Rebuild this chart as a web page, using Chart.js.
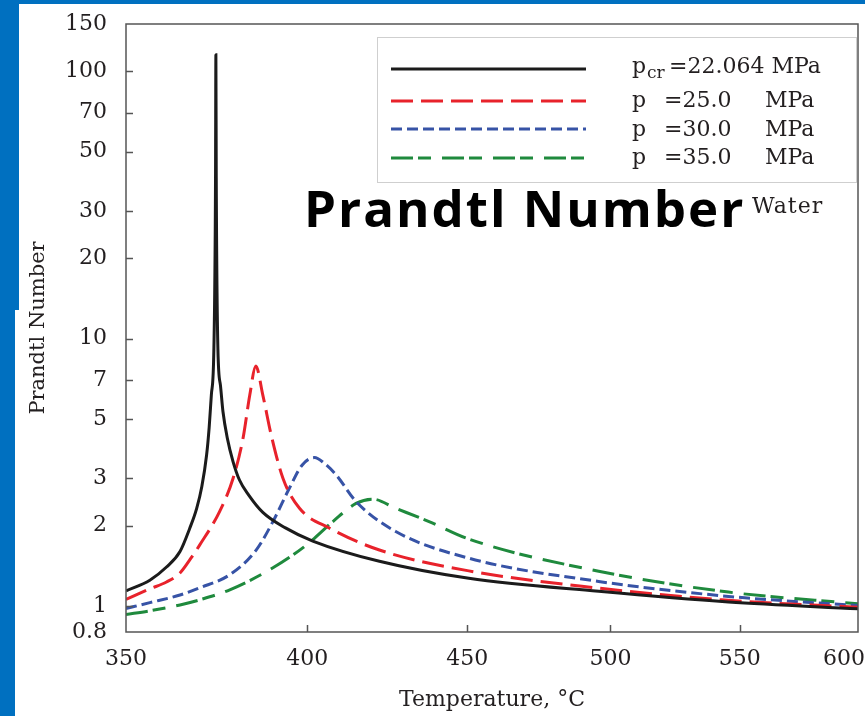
<!DOCTYPE html>
<html><head><meta charset="utf-8">
<script src="https://cdn.jsdelivr.net/npm/chart.js@4.4.0/dist/chart.umd.min.js"></script>
<style>
html,body{margin:0;padding:0;background:#fff;width:865px;height:716px;overflow:hidden;}
#wrap{position:absolute;left:0;top:0;width:865px;height:716px;}
.bar{position:absolute;background:#0070C0;}
</style></head><body>
<div id="wrap"><canvas id="c" width="865" height="716"></canvas></div>
<div class="bar" style="left:0;top:0;width:865px;height:4px"></div>
<div class="bar" style="left:0;top:0;width:19px;height:310px"></div>
<div class="bar" style="left:0;top:310px;width:15px;height:406px"></div>
<script>
// ---- data (temperature in °C, Prandtl number) ----
const xTicks = [350, 400, 450, 500, 550, 600];
const yTicks = [0.8, 1, 2, 3, 5, 7, 10, 20, 30, 50, 70, 100, 150];

const tCr  = [350, 356.2, 360.6, 364.2, 366.8, 368.7, 370.1, 371.4, 372.1, 372.7, 373.4, 373.85, 373.95, 374.05, 374.5, 375.2, 375.9, 377.1, 378.7, 380.5, 383.1, 387.1, 393.6, 401.6, 421.8, 450.5, 495.7, 545.4, 600];
const prCr = [1.14, 1.25, 1.40, 1.60, 1.95, 2.32, 2.8, 3.67, 4.65, 6.15, 9.2, 40, 115, 40, 9.2, 6.7, 5.34, 4.25, 3.47, 2.96, 2.6, 2.24, 1.96, 1.75, 1.47, 1.27, 1.135, 1.035, 0.977];

const t25  = [350, 356.2, 360.6, 364.2, 367.0, 369.5, 375.0, 378.7, 381.5, 383.4, 385.1, 387.1, 389.5, 392.9, 397.7, 406.6, 421.8, 450.5, 495.7, 542.7, 600];
const pr25 = [1.06, 1.16, 1.23, 1.33, 1.50, 1.69, 2.26, 3.0, 4.24, 6.15, 7.9, 6.15, 4.36, 3.0, 2.32, 1.955, 1.62, 1.354, 1.167, 1.055, 0.99];

const t30  = [350, 356.2, 364.2, 369.5, 377.8, 385.2, 390.0, 394.7, 398.5, 402.1, 405, 408.6, 414.6, 426.9, 450.5, 495.7, 545.4, 600];
const pr30 = [0.98, 1.03, 1.10, 1.17, 1.31, 1.62, 2.07, 2.75, 3.37, 3.59, 3.42, 3.09, 2.46, 1.90, 1.51, 1.236, 1.087, 1.004];

const t35  = [350, 356.2, 364.2, 369.5, 377.8, 390.0, 399.7, 407.6, 414.6, 419.7, 426.9, 437.5, 450.5, 495.7, 545.4, 600];
const pr35 = [0.93, 0.96, 1.01, 1.055, 1.15, 1.39, 1.69, 2.07, 2.42, 2.51, 2.32, 2.07, 1.78, 1.35, 1.128, 1.02];

const seriesNames = ["pcr=22.064 MPa", "p =25.0 MPa", "p =30.0 MPa", "p =35.0 MPa"];
const legendSub   = ["cr", "", "", ""];
const legendValue = ["=22.064", "=25.0", "=30.0", "=35.0"];
const legendUnit  = "MPa";

function pts(t, v){ return t.map((x,i)=>({x:x, y:v[i]})); }

const SERIF = "'DejaVu Serif', serif";
const TXT = '#231f20';

const overlayPlugin = {
  id:'overlay',
  afterDatasetsDraw(chart){
    const {ctx, chartArea:a, scales:{x, y}} = chart;
    ctx.save();
    ctx.strokeStyle = '#555'; ctx.lineWidth = 1.5;
    ctx.strokeRect(a.left, a.top, a.right - a.left, a.bottom - a.top);
    ctx.beginPath();
    xTicks.forEach(v => {
      if (v === xTicks[0] || v === xTicks[xTicks.length-1]) return;
      const px = Math.round(x.getPixelForValue(v)) + 0.5;
      ctx.moveTo(px, a.bottom); ctx.lineTo(px, a.bottom - 7);
    });
    yTicks.forEach(v => {
      if (v === yTicks[0] || v === yTicks[yTicks.length-1]) return;
      const py = Math.round(y.getPixelForValue(v)) + 0.5;
      ctx.moveTo(a.left, py); ctx.lineTo(a.left + 7, py);
    });
    ctx.stroke();
    ctx.restore();
  },
  afterDraw(chart){
    const {ctx} = chart;
    ctx.save();
    ctx.fillStyle = '#fff';
    ctx.fillRect(377, 37, 480, 146);
    ctx.strokeStyle = '#cfcfcf'; ctx.lineWidth = 1;
    ctx.strokeRect(377.5, 37.5, 479, 145);
    const rows = [69, 101, 129, 158];
    const bases = [73, 107, 136, 164];
    chart.data.datasets.forEach((ds, i) => {
      ctx.save();
      ctx.strokeStyle = ds.borderColor;
      ctx.lineWidth = ds.borderWidth;
      ctx.setLineDash(ds.borderDash || []);
      ctx.beginPath();
      ctx.moveTo(391, rows[i]); ctx.lineTo(586, rows[i]);
      ctx.stroke();
      ctx.restore();
      ctx.fillStyle = TXT;
      ctx.textBaseline = 'alphabetic';
      ctx.textAlign = 'left';
      ctx.font = "22px " + SERIF;
      ctx.fillText("p", 632, bases[i]);
      if (legendSub[i]) {
        ctx.font = "17px " + SERIF;
        ctx.fillText(legendSub[i], 647, bases[i] + 5);
        ctx.font = "22px " + SERIF;
        ctx.fillText(legendValue[i] + " " + legendUnit, 669, bases[i]);
      } else {
        ctx.fillText(legendValue[i], 664, bases[i]);
        ctx.fillText(legendUnit, 765, bases[i]);
      }
    });
    ctx.fillStyle = '#000';
    ctx.font = "bold 51px 'Open Sans', sans-serif";
    ctx.textAlign = 'left';
    try { ctx.letterSpacing = '2px'; } catch(e) {}
    ctx.fillText("Prandtl Number", 304, 227);
    ctx.fillStyle = TXT;
    ctx.font = "22px " + SERIF;
    try { ctx.letterSpacing = '1px'; } catch(e) {}
    ctx.fillText("Water", 752, 213);
    try { ctx.letterSpacing = '0px'; } catch(e) {}
    ctx.restore();
  }
};

const common = {fill:false, pointRadius:0, borderWidth:3, cubicInterpolationMode:'monotone'};

new Chart(document.getElementById('c'), {
  type: 'line',
  data: {
    datasets: [
      Object.assign({label: seriesNames[0], data: pts(tCr, prCr), borderColor:'#1b1b1b', borderDash:[]}, common),
      Object.assign({label: seriesNames[1], data: pts(t25, pr25), borderColor:'#e8222b', borderDash:[22, 8]}, common),
      Object.assign({label: seriesNames[2], data: pts(t30, pr30), borderColor:'#3753a6', borderDash:[11, 5]}, common),
      Object.assign({label: seriesNames[3], data: pts(t35, pr35), borderColor:'#1f8a3d', borderDash:[22, 5, 13, 11]}, common)
    ]
  },
  options: {
    responsive: false,
    animation: false,
    layout: {padding: {top: 24, right: 7, left: 0, bottom: 0}},
    plugins: {legend: {display: false}, tooltip: {enabled: false}},
    scales: {
      x: {
        type: 'logarithmic', min: 350, max: 600,
        afterBuildTicks: s => { s.ticks = xTicks.map(v => ({value: v})); },
        afterFit: s => { s.height = 84; s.paddingLeft = 0; s.paddingRight = 0; },
        grid: {display: false, drawTicks: false},
        border: {display: false},
        ticks: {autoSkip: false, maxRotation: 0, padding: 14, color: TXT,
                font: {family: SERIF, size: 22},
                callback: v => v === xTicks[xTicks.length-1] ? String(v) + '\u00a0\u00a0\u00a0\u00a0' : String(v)},
        title: {display: true, text: 'Temperature, °C', color: TXT,
                font: {family: SERIF, size: 22}, padding: {top: 0, bottom: 3}}
      },
      y: {
        type: 'logarithmic', min: 0.8, max: 150,
        afterBuildTicks: s => { s.ticks = yTicks.map(v => ({value: v})); },
        afterFit: s => { s.width = 126; s.paddingTop = 0; s.paddingBottom = 0; },
        grid: {display: false, drawTicks: false},
        border: {display: false},
        ticks: {autoSkip: false, padding: 19, color: TXT,
                font: {family: SERIF, size: 22}, callback: v => String(v)},
        title: {display: true, text: 'Prandtl Number', color: TXT,
                font: {family: SERIF, size: 21}, padding: {top: 26, bottom: 0}}
      }
    }
  },
  plugins: [overlayPlugin]
});
</script>
</body></html>
